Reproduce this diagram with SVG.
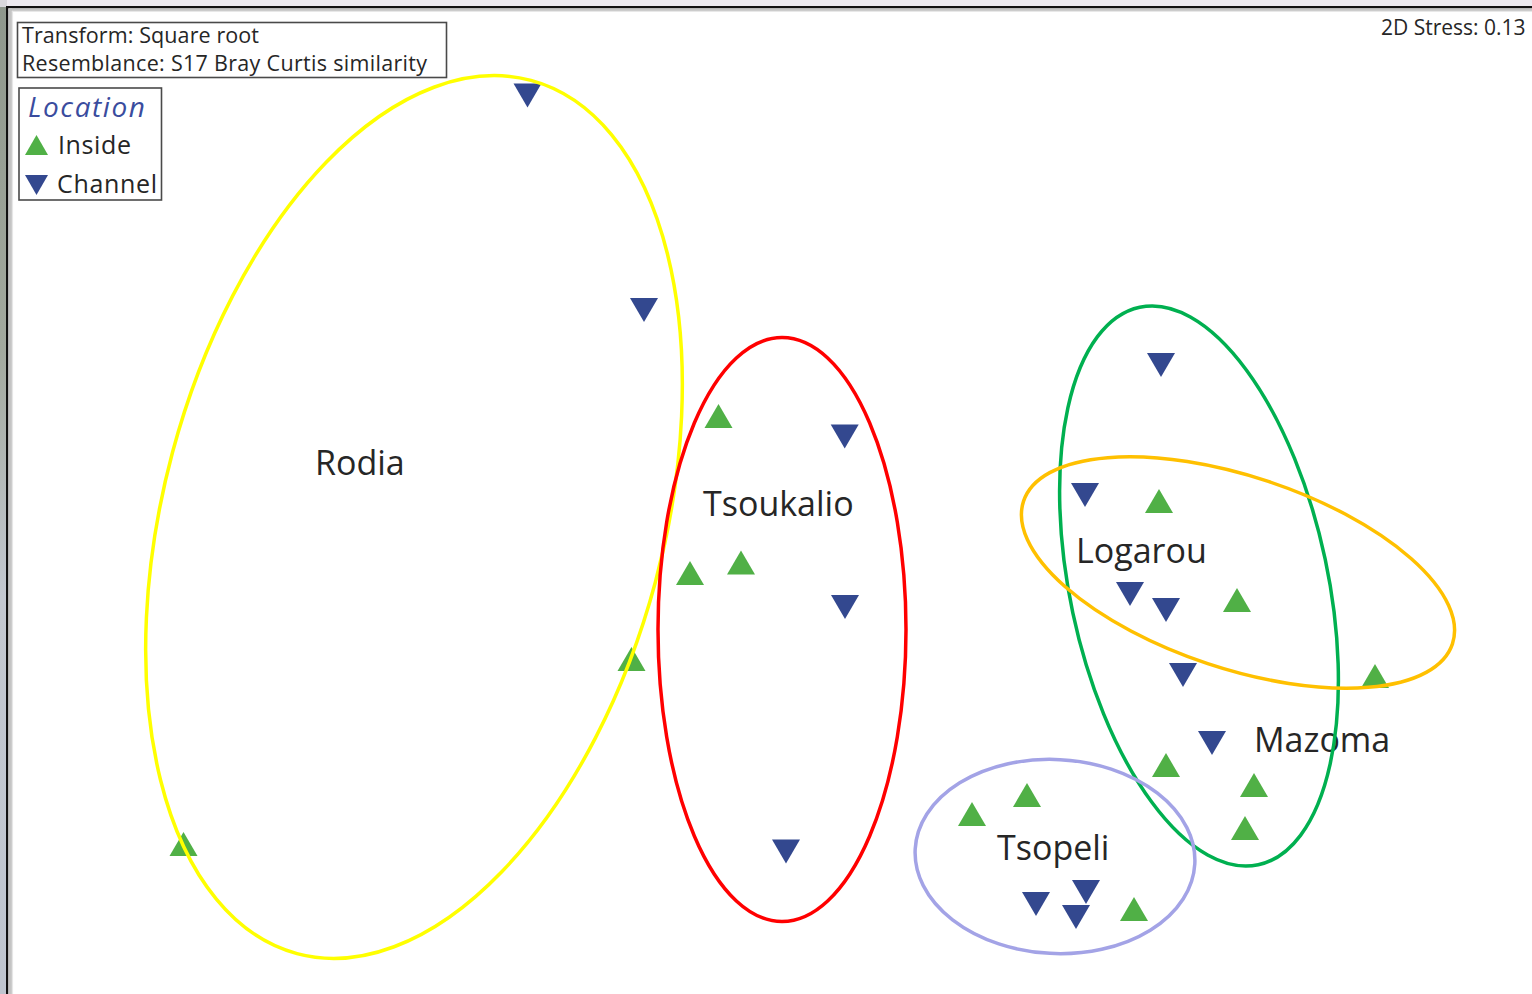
<svg xmlns="http://www.w3.org/2000/svg" xmlns:xlink="http://www.w3.org/1999/xlink" width="1532" height="994" viewBox="0 0 1532 994">
  <style>
    .t { font-family: "Open Sans", "Liberation Sans", sans-serif; fill: #262626; }
    .lbl { font-size: 34px; }
    .leg { font-size: 21.5px; }
    .leg2 { font-size: 25px; }
    .ell { fill: none; stroke-width: 3.5; }
    .box { fill: #ffffff; stroke: #4a4a4a; stroke-width: 1.6; }
    .in { fill: #50b046; }
    .ch { fill: #33488f; }
  </style>
  <defs>
    <linearGradient id="strip" x1="0" y1="0" x2="0" y2="1">
      <stop offset="0" stop-color="#8e978c"/>
      <stop offset="0.35" stop-color="#a2a99e"/>
      <stop offset="0.6" stop-color="#c3c8d0"/>
      <stop offset="1" stop-color="#bfc5cf"/>
    </linearGradient>
    <path id="up" d="M-14,12 L14,12 L0,-12 Z"/>
    <path id="dn" d="M-14,-12 L14,-12 L0,12 Z"/>
  </defs>

  <!-- frame / background -->
  <g id="frame">
    <rect x="0" y="0" width="1532" height="994" fill="#ffffff"/>
    <rect x="0" y="0" width="1532" height="7" fill="#ece9ef"/>
    <rect x="0" y="0" width="7" height="994" fill="url(#strip)"/>
    <rect x="0" y="0" width="7" height="7" fill="#d9d8dc"/>
    <rect x="7" y="6" width="1525" height="2.4" fill="#111111"/>
    <rect x="6" y="6" width="2.4" height="988" fill="#111111"/>
    <rect x="8.4" y="8.4" width="1524" height="2.5" fill="#c4c4c4"/>
    <rect x="8.4" y="8.4" width="3.5" height="986" fill="#c4c4c4"/>
    <rect x="11.9" y="10.9" width="1521" height="1" fill="#e6e6e6"/>
    <rect x="11.9" y="10.9" width="1.2" height="984" fill="#e6e6e6"/>
  </g>

  <!-- legend -->
  <g id="legend-transform">
    <rect class="box" x="17.5" y="22.5" width="429" height="55"/>
    <text class="t leg" x="22" y="43" textLength="237">Transform: Square root</text>
    <text class="t leg" x="22" y="71" textLength="405">Resemblance: S17 Bray Curtis similarity</text>
  </g>
  <g id="legend-location">
    <rect class="box" x="19" y="88" width="142.5" height="112"/>
    <text x="28" y="117" font-family="'Open Sans', 'Liberation Sans', sans-serif" font-style="italic" font-size="28" fill="#3a4c9e" textLength="117">Location</text>
    <path class="in" d="M25,155 L48,155 L36.5,135 Z"/>
    <text class="t leg2" x="58" y="154" textLength="73">Inside</text>
    <path class="ch" d="M25,175 L48,175 L36.5,195 Z"/>
    <text class="t leg2" x="57" y="193" textLength="100">Channel</text>
  </g>
  <g id="stress">
    <text class="t" font-size="21" x="1381" y="35">2D Stress: 0.13</text>
  </g>

  <!-- sample markers -->
  <g id="inside-samples" class="in">
    <use xlink:href="#up" x="718.5" y="416"/>
    <use xlink:href="#up" x="690" y="573"/>
    <use xlink:href="#up" x="741" y="562.5"/>
    <use xlink:href="#up" x="631.5" y="659"/>
    <use xlink:href="#up" x="183.5" y="844"/>
    <use xlink:href="#up" x="1159" y="501"/>
    <use xlink:href="#up" x="1237" y="600"/>
    <use xlink:href="#up" x="1375" y="676"/>
    <use xlink:href="#up" x="1166" y="765"/>
    <use xlink:href="#up" x="1254" y="785"/>
    <use xlink:href="#up" x="1245" y="828"/>
    <use xlink:href="#up" x="972" y="814"/>
    <use xlink:href="#up" x="1027" y="795"/>
    <use xlink:href="#up" x="1134" y="909"/>
  </g>
  <g id="channel-samples" class="ch">
    <use xlink:href="#dn" x="527.5" y="95.5"/>
    <use xlink:href="#dn" x="644" y="310"/>
    <use xlink:href="#dn" x="844.7" y="436.5"/>
    <use xlink:href="#dn" x="845" y="607"/>
    <use xlink:href="#dn" x="786" y="851.5"/>
    <use xlink:href="#dn" x="1161" y="365"/>
    <use xlink:href="#dn" x="1085" y="495"/>
    <use xlink:href="#dn" x="1130" y="594"/>
    <use xlink:href="#dn" x="1166" y="610"/>
    <use xlink:href="#dn" x="1183" y="675"/>
    <use xlink:href="#dn" x="1212" y="743"/>
    <use xlink:href="#dn" x="1036" y="904"/>
    <use xlink:href="#dn" x="1086" y="892"/>
    <use xlink:href="#dn" x="1076" y="917"/>
  </g>

  <!-- cluster labels -->
  <g id="labels">
    <text class="t lbl" x="315" y="475">Rodia</text>
    <text class="t lbl" x="703" y="516">Tsoukalio</text>
    <text class="t lbl" x="1076" y="563">Logarou</text>
    <text class="t lbl" x="1254" y="752">Mazoma</text>
    <text class="t lbl" x="997" y="860">Tsopeli</text>
  </g>

  <!-- cluster ellipses -->
  <g id="clusters">
    <ellipse id="rodia" class="ell" stroke="#ffff00" cx="414" cy="517" rx="250" ry="452" transform="rotate(15 414 517)"/>
    <ellipse id="tsoukalio" class="ell" stroke="#ff0000" stroke-width="4" cx="782" cy="629.5" rx="124" ry="292"/>
    <ellipse id="mazoma" class="ell" stroke="#00b050" cx="1199" cy="586" rx="129" ry="285" transform="rotate(-12 1199 586)"/>
    <ellipse id="logarou" class="ell" stroke="#ffc000" cx="1238" cy="572.5" rx="226" ry="96" transform="rotate(18.4 1238 572.5)"/>
    <ellipse id="tsopeli" class="ell" stroke="#a3a3e6" stroke-width="3" cx="1055" cy="856.5" rx="140" ry="97" transform="rotate(3 1055 856.5)"/>
  </g>
</svg>
